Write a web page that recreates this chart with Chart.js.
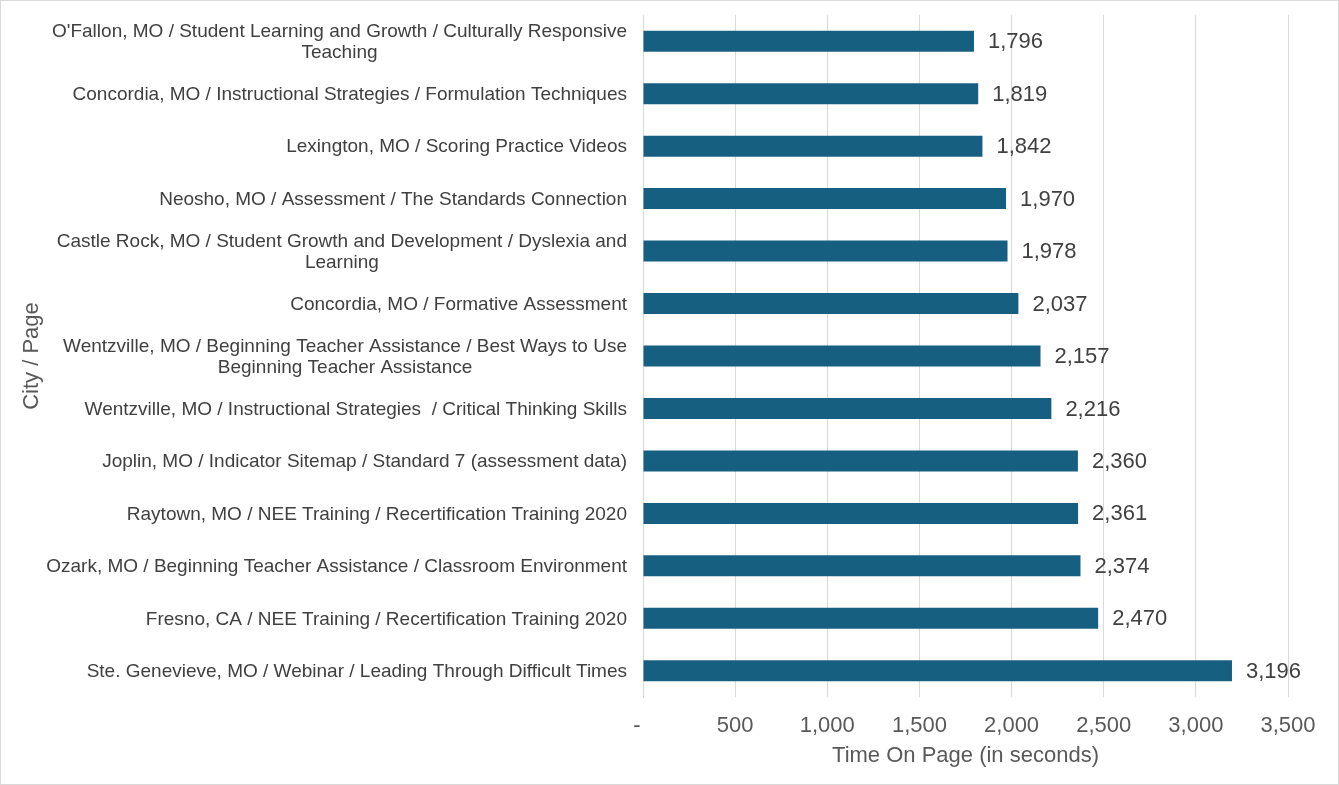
<!DOCTYPE html>
<html>
<head>
<meta charset="utf-8">
<script src="https://cdn.jsdelivr.net/npm/chart.js@4"></script>
<style>
  body { margin: 0; background: #fff; }
  #wrap { width: 1339px; height: 785px; box-sizing: border-box; border: 1px solid #d9d9d9; }
</style>
</head>
<body>
<div id="wrap"><canvas id="chartPages" width="1337" height="783"></canvas></div>
<script>
// city / page labels, top to bottom
var pageLabels = [
  ["O'Fallon, MO / Student Learning and Growth / Culturally Responsive", "Teaching"],
  ["Concordia, MO / Instructional Strategies / Formulation Techniques"],
  ["Lexington, MO / Scoring Practice Videos"],
  ["Neosho, MO / Assessment / The Standards Connection"],
  ["Castle Rock, MO / Student Growth and Development / Dyslexia and", "Learning"],
  ["Concordia, MO / Formative Assessment"],
  ["Wentzville, MO / Beginning Teacher Assistance / Best Ways to Use", "Beginning Teacher Assistance"],
  ["Wentzville, MO / Instructional Strategies  / Critical Thinking Skills"],
  ["Joplin, MO / Indicator Sitemap / Standard 7 (assessment data)"],
  ["Raytown, MO / NEE Training / Recertification Training 2020"],
  ["Ozark, MO / Beginning Teacher Assistance / Classroom Environment"],
  ["Fresno, CA / NEE Training / Recertification Training 2020"],
  ["Ste. Genevieve, MO / Webinar / Leading Through Difficult Times"]
];
var timeOnPage = [1796, 1819, 1842, 1970, 1978, 2037, 2157, 2216, 2360, 2361, 2374, 2470, 3196];

var xMin = 0, xMax = 3500, xStep = 500;

function fmt(v) {
  return v.toLocaleString('en-US');
}

// y labels drawn by hand so that wrapped lines centre on each other but the block is right aligned
var pageLabelPlugin = {
  id: 'pageLabels',
  afterDraw: function(chart) {
    var ctx = chart.ctx;
    var yScale = chart.scales.y;
    var rightEdge = chart.chartArea.left - 16;
    var lineH = 21;
    ctx.save();
    ctx.font = '19px "Liberation Sans", Arial, sans-serif';
    ctx.fillStyle = '#404040';
    ctx.textAlign = 'center';
    ctx.textBaseline = 'middle';
    pageLabels.forEach(function(lines, i) {
      var y = yScale.getPixelForValue(i) + 1;
      var w = 0;
      lines.forEach(function(l) { w = Math.max(w, ctx.measureText(l).width); });
      var cx = rightEdge - w / 2;
      var y0 = y - (lines.length - 1) * lineH / 2;
      lines.forEach(function(l, k) { ctx.fillText(l, cx, y0 + k * lineH); });
    });
    ctx.restore();
  }
};

// value labels to the right of bars
var valueLabelPlugin = {
  id: 'valueLabels',
  afterDatasetsDraw: function(chart) {
    var ctx = chart.ctx;
    var meta = chart.getDatasetMeta(0);
    ctx.save();
    ctx.font = '22px "Liberation Sans", Arial, sans-serif';
    ctx.fillStyle = '#404040';
    ctx.textAlign = 'left';
    ctx.textBaseline = 'middle';
    meta.data.forEach(function(bar, i) {
      ctx.fillText(fmt(timeOnPage[i]), bar.x + 14, bar.y + 1);
    });
    ctx.restore();
  }
};

var ctx = document.getElementById('chartPages').getContext('2d');
var myBarChart = new Chart(ctx, {
  type: 'bar',
  data: {
    labels: pageLabels.map(function(l) { return l.join(' '); }),
    datasets: [{
      label: 'Time On Page',
      data: timeOnPage,
      backgroundColor: '#175f80',
      borderWidth: 0,
      barPercentage: 0.4,
      categoryPercentage: 1
    }]
  },
  options: {
    indexAxis: 'y',
    responsive: false,
    animation: false,
    layout: { padding: { top: 14, right: 50, left: 0, bottom: 0 } },
    plugins: {
      legend: { display: false },
      tooltip: { enabled: false }
    },
    scales: {
      x: {
        min: xMin,
        max: xMax,
        grid: { color: '#d9d9d9', drawTicks: false },
        border: { display: false },
        ticks: {
          stepSize: xStep,
          padding: 16,
          color: '#595959',
          font: { size: 22, family: '"Liberation Sans", Arial, sans-serif' },
          callback: function(v) { return v === 0 ? '-  ' : fmt(v); }
        },
        title: {
          display: true,
          text: 'Time On Page (in seconds)',
          color: '#595959',
          font: { size: 22, family: '"Liberation Sans", Arial, sans-serif' },
          padding: { top: 2, bottom: 15 }
        },
        afterFit: function(scale) { scale.height = 87; }
      },
      y: {
        grid: { display: false },
        border: { display: true, color: '#d9d9d9' },
        ticks: { display: false },
        title: {
          display: true,
          text: 'City / Page',
          color: '#595959',
          font: { size: 22, family: '"Liberation Sans", Arial, sans-serif' },
          padding: { top: 18, bottom: 0 }
        },
        afterFit: function(scale) { scale.width = 642; }
      }
    }
  },
  plugins: [pageLabelPlugin, valueLabelPlugin]
});
</script>
</body>
</html>
